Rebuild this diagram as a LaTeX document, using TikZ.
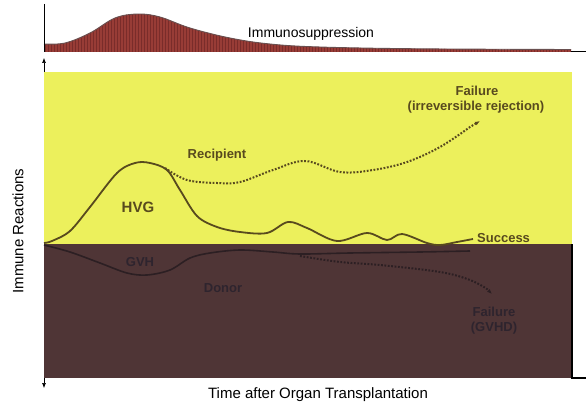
\documentclass[tikz,border=0pt]{standalone}
\usepackage{fontspec}
\setmainfont{Liberation Sans}
\usetikzlibrary{arrows.meta}

\definecolor{hostyellow}{RGB}{236,240,92}
\definecolor{donorbrown}{RGB}{79,53,54}
\definecolor{suppred}{RGB}{152,60,54}
\definecolor{suppstripe}{RGB}{122,44,42}
\definecolor{suppedge}{RGB}{105,80,80}
\definecolor{curveolive}{RGB}{88,74,30}
\definecolor{curvedark}{RGB}{44,31,35}
\definecolor{donortext}{RGB}{46,36,46}

\begin{document}
\begin{tikzpicture}[
    x=1pt, y=-1pt,
    >={Latex[length=5pt,width=4pt]},
    axislabel/.style={font=\fontsize{15}{17}\selectfont, text=black},
    hostlabel/.style={
        font=\fontsize{13}{15}\selectfont\bfseries,
        text=curveolive, align=center, inner sep=0pt
    },
    donorlabel/.style={
        font=\fontsize{13}{15}\selectfont\bfseries,
        text=donortext, align=center, inner sep=0pt
    },
    hostcurve/.style={draw=curveolive, line width=1.8pt, line join=round},
    donorcurve/.style={draw=curvedark, line width=1.6pt, line join=round},
    dotcurve/.style={line width=2pt, dash pattern=on 1.8pt off 1.6pt}
]
\useasboundingbox (0,0) rectangle (586,406);

\def\supppath{(44,52) -- plot[smooth, tension=0.6] coordinates {(44,44) (65,43)
    (90,33) (115,18) (138,14) (160,17) (190,28) (230,38) (270,44) (320,47)
    (420,48.8) (571,49.5)} -- (571,52) -- cycle}

% Immunosuppression band
\fill[suppred] \supppath;
\begin{scope}
    \clip \supppath;
    \foreach \x in {45,48,...,570}
        \draw[suppstripe, line width=0.7pt] (\x,0) -- (\x,52);
\end{scope}
\draw[suppedge, line width=0.9pt] plot[smooth, tension=0.6] coordinates {(44,44)
    (65,43) (90,33) (115,18) (138,14) (160,17) (190,28) (230,38) (270,44)
    (320,47) (420,48.8) (571,49.5)};
\draw[line width=0.5pt] (44,4) -- (44,52);
\draw[line width=1pt] (571,52) -- (586,52);
\node[axislabel, font=\fontsize{14}{16}\selectfont] (supp) at (311,34) {Immunosuppression};

% Achse
\coordinate (ybot) at (44,388);
\coordinate (ytop) at (44,58);
\draw[<->, line width=0.6pt] (ybot) -- (ytop);

% Empfaenger / Spender
\fill[hostyellow] (44,72) rectangle (572,244);
\fill[donorbrown] (44,244) rectangle (572,378);
\draw[line width=1.6pt] (572,244) -- (572,378) -- (586,378);

% HVG
\draw[hostcurve] plot[smooth, tension=0.55] coordinates {(44,243) (52,241)
    (70,231) (90,207) (117,173) (135,163) (150,163) (167,170) (180,190)
    (197,216) (217,227) (240,232) (267,233) (288,222) (307,228) (337,241)
    (367,233) (387,240) (402,234) (427,243) (440,245) (457,242) (473,239)};
\coordinate (hvgfail) at (480,121);
\draw[hostcurve, dotcurve, ->] plot[smooth, tension=0.6] coordinates {(165,168)
    (187,180) (217,183) (240,182) (273,170) (305,161) (340,172) (373,170)
    (407,162) (440,147) (470,127)} -- (hvgfail);

% GVH
\draw[donorcurve] plot[smooth, tension=0.55] coordinates {(44,245) (70,252)
    (100,263) (127,273) (147,275) (170,270) (190,258) (210,253) (240,250)
    (273,252) (300,254) (350,253) (420,252) (470,251)};
\coordinate (gvhfail) at (492,294);
\draw[donorcurve, dotcurve, ->] plot[smooth, tension=0.6] coordinates {(300,256)
    (340,262) (380,265) (440,272) (470,280) (487,289)} -- (gvhfail);

% Beschriftung
\node[hostlabel] (fail) at (477,91) {Failure};
\node[hostlabel] (irrev) at (476,107) {(irreversible rejection)};
\node[hostlabel] (recip) at (217,155) {Recipient};
\node[hostlabel, font=\fontsize{15}{17}\selectfont\bfseries] (hvg) at (138,207) {HVG};
\node[hostlabel, anchor=west] (succ) at (477,238) {Success};
\node[donorlabel] (gvh) at (140,262) {GVH};
\node[donorlabel] (donor) at (223,288) {Donor};
\node[donorlabel] (gvhd) at (494,321) {Failure\\(GVHD)};

\node[axislabel, rotate=90] (yaxis) at (18,231) {Immune Reactions};
\node[axislabel] (xaxis) at (318,395) {Time after Organ Transplantation};

\end{tikzpicture}
\end{document}
